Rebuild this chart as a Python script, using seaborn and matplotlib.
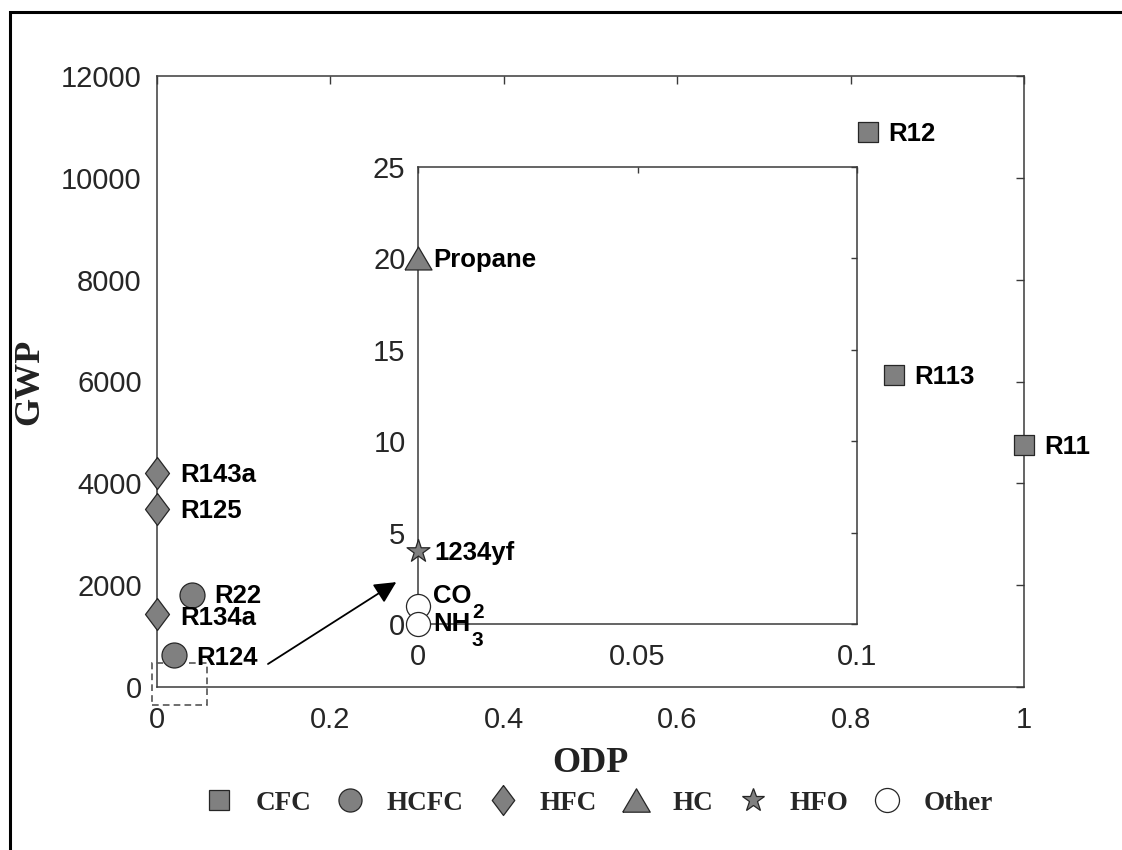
import matplotlib
matplotlib.use("Agg")
import matplotlib.pyplot as plt
import pandas as pd
import seaborn as sns
from matplotlib.lines import Line2D
from matplotlib.patches import Rectangle
from matplotlib.markers import MarkerStyle
from matplotlib.font_manager import FontProperties

# Refrigerants on the full-scale axes
main_names = ["R12", "R113", "R11", "R143a", "R125", "R22", "R134a", "R124"]
main_odp = [0.82, 0.85, 1.0, 0.0, 0.0, 0.04, 0.0, 0.02]
main_gwp = [10900, 6130, 4750, 4200, 3500, 1810, 1430, 620]
main_class = ["CFC", "CFC", "CFC", "HFC", "HFC", "HCFC", "HFC", "HCFC"]

# Low-GWP refrigerants on the zoomed inset (formula subscripts kept apart)
inset_names = ["Propane", "1234yf", "CO", "NH"]
inset_subscripts = ["", "", "2", "3"]
inset_odp = [0.0, 0.0, 0.0, 0.0]
inset_gwp = [20, 4, 1, 0]
inset_class = ["HC", "HFO", "Other", "Other"]

classes = ["CFC", "HCFC", "HFC", "HC", "HFO", "Other"]

main_xticks = [0, 0.2, 0.4, 0.6, 0.8, 1]
main_xticklabels = ["0", "0.2", "0.4", "0.6", "0.8", "1"]
main_yticks = [0, 2000, 4000, 6000, 8000, 10000, 12000]
inset_xticks = [0, 0.05, 0.1]
inset_xticklabels = ["0", "0.05", "0.1"]
inset_yticks = [0, 5, 10, 15, 20, 25]

# ---- styling -------------------------------------------------------------
sns.set_style("white")
plt.rcParams["font.family"] = ["Liberation Sans", "DejaVu Sans"]

GREY = "#808080"
EDGE = "#262626"
AXC = "#3a3a3a"
TICKC = "#262626"

tall_diamond = MarkerStyle([(0, 1), (0.75, 0), (0, -1), (-0.75, 0), (0, 1)])
wide_triangle = MarkerStyle([(-1, -0.85), (1, -0.85), (0, 0.85), (-1, -0.85)])

marker_style = {
    "CFC": dict(marker="s", s=207, fc=GREY, ms=14.4, dx=14.5),
    "HCFC": dict(marker="o", s=324, fc=GREY, ms=16.6, dx=16.0),
    "HFC": dict(marker=tall_diamond, s=530, fc=GREY, ms=21.6, dx=16.5),
    "HC": dict(marker=wide_triangle, s=378, fc=GREY, ms=19.8, dx=11.0),
    "HFO": dict(marker="*", s=300, fc=GREY, ms=17.4, dx=12.0),
    "Other": dict(marker="o", s=300, fc="white", ms=17.3, dx=11.0),
}

# vertical nudges (points) for individual point labels
label_dy = {"R22": -0.5, "R134a": -3.0, "CO": 7.0, "NH": 0.0}

main_df = pd.DataFrame({"name": main_names, "sub": [""] * len(main_names),
                        "ODP": main_odp, "GWP": main_gwp, "cls": main_class})
inset_df = pd.DataFrame({"name": inset_names, "sub": inset_subscripts,
                         "ODP": inset_odp, "GWP": inset_gwp, "cls": inset_class})

fig = plt.figure(figsize=(11.22, 8.5), dpi=100)
fig.patch.set_facecolor("white")

ax = fig.add_axes([157 / 1122, 1 - 687 / 850, (1024 - 157) / 1122, (687 - 76) / 850])
axin = fig.add_axes([418 / 1122, 1 - 624 / 850, (857 - 418) / 1122, (624 - 167) / 850])
axin.set_facecolor("none")


def draw_points(axis, df, fontsize=18.5):
    for cls, grp in df.groupby("cls", sort=False):
        st = marker_style[cls]
        sns.scatterplot(data=grp, x="ODP", y="GWP", ax=axis, marker=st["marker"],
                        s=st["s"], color=st["fc"], edgecolor=EDGE, linewidth=0.9,
                        legend=False, clip_on=False, zorder=5)
        for _, row in grp.iterrows():
            dy = label_dy.get(row["name"], -1.5)
            base = axis.annotate(row["name"], (row["ODP"], row["GWP"]),
                                 xytext=(st["dx"], dy), textcoords="offset points",
                                 ha="left", va="center", fontsize=fontsize,
                                 fontweight="bold", color="black", zorder=6,
                                 annotation_clip=False)
            if row["sub"]:
                axis.annotate(row["sub"], xy=(1, 0), xycoords=base,
                              xytext=(0.5, 3.5), textcoords="offset points",
                              ha="left", va="top", fontsize=15,
                              fontweight="bold", color="black", zorder=6,
                              annotation_clip=False)


draw_points(ax, main_df)
draw_points(axin, inset_df)

# ---- main axes -----------------------------------------------------------
ax.set_xlim(0, 1)
ax.set_ylim(0, 12000)
ax.set_xticks(main_xticks)
ax.set_xticklabels(main_xticklabels)
ax.set_yticks(main_yticks)
ax.set_yticklabels([str(v) for v in main_yticks])
ax.tick_params(axis="both", direction="in", length=6, width=1.0, color=AXC,
               labelsize=21, labelcolor=TICKC, top=True, right=True)
ax.tick_params(axis="x", pad=13.5)
ax.tick_params(axis="y", pad=11)
for sp in ax.spines.values():
    sp.set_visible(True)
    sp.set_color(AXC)
    sp.set_linewidth(1.1)

ax.set_xlabel("ODP", fontfamily="Liberation Serif", fontweight="bold",
              fontsize=26, color="#222222")
ax.xaxis.set_label_coords(0.5, (687 - 764) / 611)
ax.xaxis.label.set_va("center")
ax.set_ylabel("GWP", fontfamily="Liberation Serif", fontweight="bold",
              fontsize=26, color="#222222")
ax.yaxis.set_label_coords((30 - 157) / 867, 0.5)
ax.yaxis.label.set_va("center")

# dashed box marking the zoomed region and the arrow pointing to the inset
ax.add_patch(Rectangle((-0.006, -350), 0.064, 820, fill=False, ec="#555555",
                       lw=1.2, ls=(0, (4, 2.5)), clip_on=False, zorder=3))
ax.annotate("", xy=(0.276, 2060), xytext=(0.128, 452),
            arrowprops=dict(arrowstyle="-|>", color="black", lw=1.3,
                            mutation_scale=33, shrinkA=0, shrinkB=0),
            zorder=4)

# ---- inset axes ----------------------------------------------------------
axin.set_xlim(0, 0.1)
axin.set_ylim(0, 25)
axin.set_xticks(inset_xticks)
axin.set_xticklabels(inset_xticklabels)
axin.set_yticks(inset_yticks)
axin.set_yticklabels([str(v) for v in inset_yticks])
axin.tick_params(axis="both", direction="in", length=4, width=1.0, color=AXC,
                 labelsize=21, labelcolor=TICKC, top=True, right=True)
axin.tick_params(axis="x", pad=13.5)
axin.tick_params(axis="y", pad=9)
axin.set_xlabel("")
axin.set_ylabel("")
for sp in axin.spines.values():
    sp.set_visible(True)
    sp.set_color(AXC)
    sp.set_linewidth(1.1)

# ---- legend --------------------------------------------------------------
handles = [Line2D([], [], ls="none", marker=marker_style[c]["marker"],
                  markersize=marker_style[c]["ms"],
                  markerfacecolor=marker_style[c]["fc"],
                  markeredgecolor=EDGE, markeredgewidth=0.9)
           for c in classes]
fig.legend(handles, classes, loc="center", bbox_to_anchor=(0.534, 1 - 803 / 850),
           ncol=6, frameon=False,
           prop=FontProperties(family="Liberation Serif", weight="bold", size=19.5),
           handlelength=1.0, handletextpad=0.85, columnspacing=0.95)

# outer frame around the figure
fig.add_artist(Rectangle((10 / 1122, -0.1), 1.2, 1.1 - 12 / 850,
                         transform=fig.transFigure, fill=False,
                         ec="black", lw=2.2, zorder=10))

fig.savefig("out.png", dpi=100, facecolor="white")
